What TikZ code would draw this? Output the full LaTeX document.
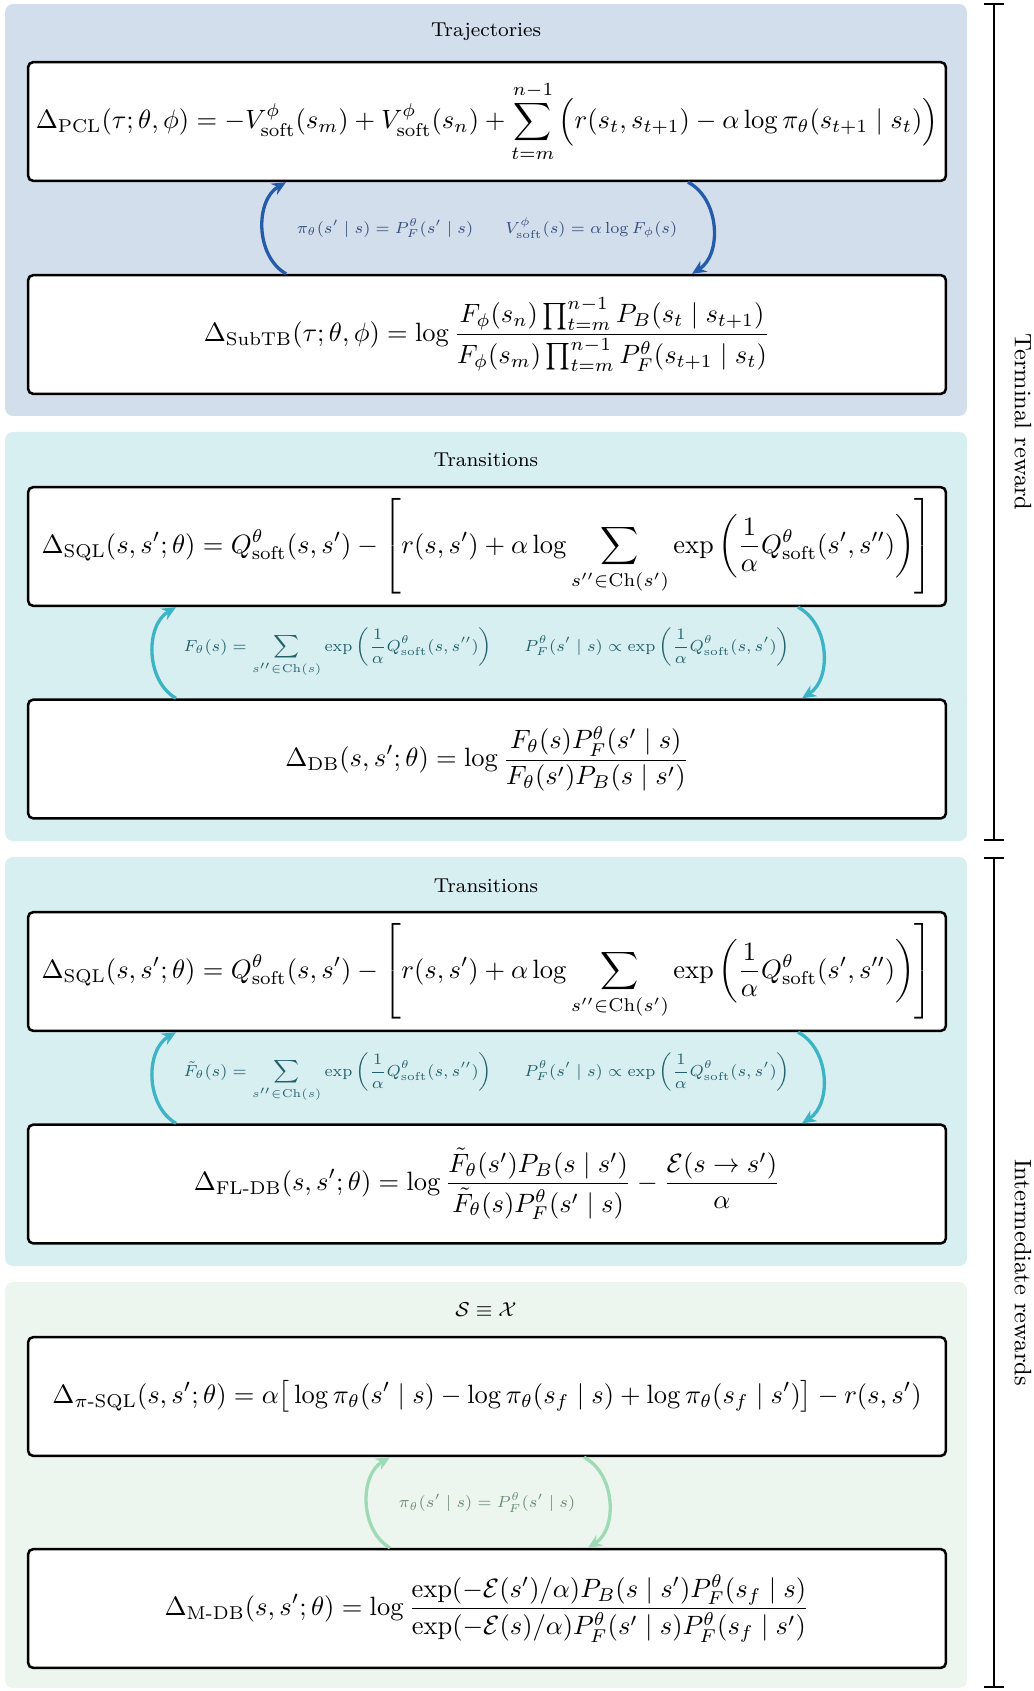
\documentclass[tikz,border=0pt]{standalone}
\usepackage{amsmath,amssymb}
\definecolor{trajfill}{RGB}{211,222,237}
\definecolor{trajline}{RGB}{36,92,170}
\definecolor{trajtext}{RGB}{52,78,122}
\definecolor{transfill}{RGB}{216,239,242}
\definecolor{transline}{RGB}{60,180,197}
\definecolor{transtext}{RGB}{34,96,106}
\definecolor{mdpfill}{RGB}{236,246,238}
\definecolor{mdpline}{RGB}{158,218,180}
\definecolor{mdptext}{RGB}{108,140,116}
\usetikzlibrary{arrows.meta,positioning,calc}

\tikzset{
  panel/.style={fill=#1,rounded corners=3pt,minimum width=363.3pt,inner sep=0pt},
  lossbox/.style={draw,line width=0.95pt,fill=white,rounded corners=2pt,
    minimum width=346.7pt,minimum height=44.9pt,inner sep=0pt},
  paneltitle/.style={font=\footnotesize,scale=0.95},
  link/.style={line width=1.25pt,draw=#1,-{Stealth[length=5.3pt,width=4.8pt]}},
  linklabel/.style={font=\scriptsize,scale=0.865,text=#1},
  sidebar/.style={line width=0.8pt,{Bar[width=7.2pt]}-{Bar[width=7.2pt]}},
  sidelabel/.style={rotate=-90,anchor=south,inner sep=7.4pt,font=\small}
}

\begin{document}
\begin{tikzpicture}[x=0.3777pt,y=-0.3777pt]
  \useasboundingbox (0,0) rectangle (1034,1691);
  % trajectories
  \node[panel=trajfill,minimum height=155.6pt] (trajpanel) at (486,210) {};
  \node[paneltitle] (trajtitle) at (486,32) {Trajectories};
  \node[lossbox] (pcl) at (487,121.5) {$\displaystyle \Delta_{\mathrm{PCL}}(\tau;\theta,\phi) = -V^{\phi}_{\mathrm{soft}}(s_m) + V^{\phi}_{\mathrm{soft}}(s_n) + \sum_{t=m}^{n-1}\Big(r(s_t,s_{t+1}) - \alpha\log\pi_\theta(s_{t+1}\mid s_t)\Big)$};
  \node[lossbox] (subtb) at (487,334.5) {$\displaystyle \Delta_{\mathrm{SubTB}}(\tau;\theta,\phi) = \log\frac{F_\phi(s_n)\prod_{t=m}^{n-1}P_B(s_t\mid s_{t+1})}{F_\phi(s_m)\prod_{t=m}^{n-1}P^\theta_F(s_{t+1}\mid s_t)}$};
  \draw[link=trajline] ($(subtb.north)+(-201,0)$) to[bend left=60] ($(pcl.south)+(-201,0)$);
  \draw[link=trajline] ($(pcl.south)+(201,0)$) to[bend left=60] ($(subtb.north)+(205,0)$);
  \node[linklabel=trajtext] (trajrel) at ($(pcl.south)!.5!(subtb.north)$)
    {$\pi_\theta(s'\mid s) = P^\theta_F(s'\mid s)$\qquad$V^{\phi}_{\mathrm{soft}}(s) = \alpha\log F_\phi(s)$};

  % transitions
  \node[panel=transfill,minimum height=154.5pt] (transpanel) at (486,636.5) {};
  \node[paneltitle] (transtitle) at (486,460) {Transitions};
  \node[lossbox] (sql) at (487,546.5) {$\displaystyle \Delta_{\mathrm{SQL}}(s,s';\theta) = Q^\theta_{\mathrm{soft}}(s,s') - \left[r(s,s') + \alpha\log\sum_{s''\in\mathrm{Ch}(s')}\exp\left(\frac{1}{\alpha}Q^\theta_{\mathrm{soft}}(s',s'')\right)\right]$};
  \node[lossbox] (db) at (487,759) {$\displaystyle \Delta_{\mathrm{DB}}(s,s';\theta) = \log\frac{F_\theta(s)P^\theta_F(s'\mid s)}{F_\theta(s')P_B(s\mid s')}$};
  \draw[link=transline] ($(db.north)+(-311,0)$) to[bend left=60] ($(sql.south)+(-311,0)$);
  \draw[link=transline] ($(sql.south)+(311,0)$) to[bend left=60] ($(db.north)+(315,0)$);
  \node[linklabel=transtext] (transrel) at ($(sql.south)!.5!(db.north)$)
    {$\displaystyle F_\theta(s) = \sum_{s''\in\mathrm{Ch}(s)}\exp\left(\frac{1}{\alpha}Q^\theta_{\mathrm{soft}}(s,s'')\right)$\qquad$\displaystyle P^\theta_F(s'\mid s)\propto\exp\left(\frac{1}{\alpha}Q^\theta_{\mathrm{soft}}(s,s')\right)$};

  % transitions, intermediate rewards
  \node[panel=transfill,minimum height=154.5pt] (flpanel) at (486,1061.5) {};
  \node[paneltitle] (fltitle) at (486,886) {Transitions};
  \node[lossbox] (flsql) at (487,971.5) {$\displaystyle \Delta_{\mathrm{SQL}}(s,s';\theta) = Q^\theta_{\mathrm{soft}}(s,s') - \left[r(s,s') + \alpha\log\sum_{s''\in\mathrm{Ch}(s')}\exp\left(\frac{1}{\alpha}Q^\theta_{\mathrm{soft}}(s',s'')\right)\right]$};
  \node[lossbox] (fldb) at (487,1184) {$\displaystyle \Delta_{\text{FL-DB}}(s,s';\theta) = \log\frac{\tilde F_\theta(s')P_B(s\mid s')}{\tilde F_\theta(s)P^\theta_F(s'\mid s)} - \frac{\mathcal{E}(s\to s')}{\alpha}$};
  \draw[link=transline] ($(fldb.north)+(-311,0)$) to[bend left=60] ($(flsql.south)+(-311,0)$);
  \draw[link=transline] ($(flsql.south)+(311,0)$) to[bend left=60] ($(fldb.north)+(315,0)$);
  \node[linklabel=transtext] (flrel) at ($(flsql.south)!.5!(fldb.north)$)
    {$\displaystyle \tilde F_\theta(s) = \sum_{s''\in\mathrm{Ch}(s)}\exp\left(\frac{1}{\alpha}Q^\theta_{\mathrm{soft}}(s,s'')\right)$\qquad$\displaystyle P^\theta_F(s'\mid s)\propto\exp\left(\frac{1}{\alpha}Q^\theta_{\mathrm{soft}}(s,s')\right)$};

  % S = X
  \node[panel=mdpfill,minimum height=153.3pt] (mdppanel) at (486,1485) {};
  \node[paneltitle] (mdptitle) at (486,1310) {$\mathcal{S}\equiv\mathcal{X}$};
  \node[lossbox] (pisql) at (487,1396.5) {$\displaystyle \Delta_{\pi\text{-}\mathrm{SQL}}(s,s';\theta) = \alpha\big[\log\pi_\theta(s'\mid s) - \log\pi_\theta(s_f\mid s) + \log\pi_\theta(s_f\mid s')\big] - r(s,s')$};
  \node[lossbox] (mdb) at (487,1608.5) {$\displaystyle \Delta_{\text{M-DB}}(s,s';\theta) = \log\frac{\exp(-\mathcal{E}(s')/\alpha)P_B(s\mid s')P^\theta_F(s_f\mid s)}{\exp(-\mathcal{E}(s)/\alpha)P^\theta_F(s'\mid s)P^\theta_F(s_f\mid s')}$};
  \draw[link=mdpline] ($(mdb.north)+(-97,0)$) to[bend left=60] ($(pisql.south)+(-97,0)$);
  \draw[link=mdpline] ($(pisql.south)+(97,0)$) to[bend left=60] ($(mdb.north)+(101,0)$);
  \node[linklabel=mdptext] (mdprel) at ($(pisql.south)!.5!(mdb.north)$)
    {$\pi_\theta(s'\mid s) = P^\theta_F(s'\mid s)$};

  % reward brackets
  \coordinate (termtop) at (994,3);
  \coordinate (termbot) at (994,841);
  \coordinate (intertop) at (994,857);
  \coordinate (interbot) at (994,1688);
  \draw[sidebar] (termtop) -- node[midway,sidelabel] (termlabel) {Terminal reward} (termbot);
  \draw[sidebar] (intertop) -- node[midway,sidelabel] (interlabel) {Intermediate rewards} (interbot);
\end{tikzpicture}
\end{document}
